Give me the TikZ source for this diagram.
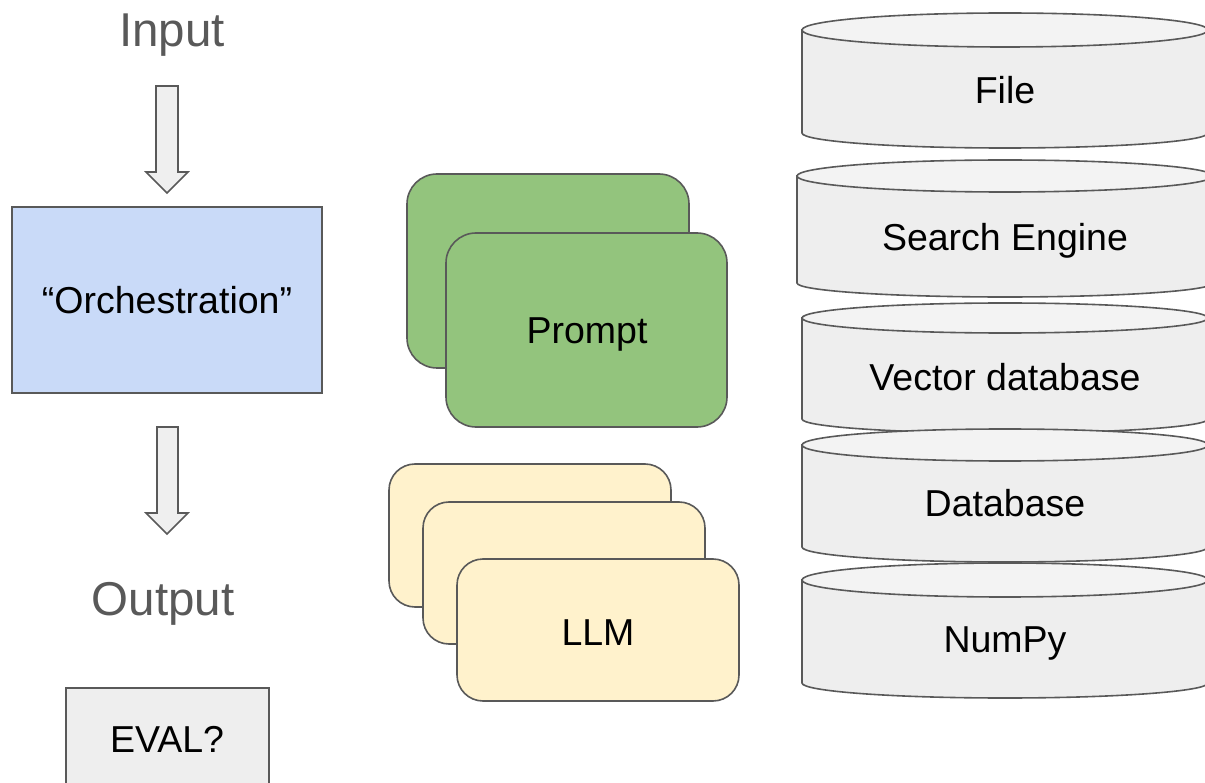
\documentclass[tikz,border=0pt]{standalone}
\usepackage{fontspec}
\setmainfont{Liberation Sans}
\begin{document}
\begin{tikzpicture}[x=1pt,y=-1pt,
  edge/.style={draw=strokegray,line width=1.6pt},
  bigtext/.style={text=labelgray,font=\fontsize{47.5}{50}\selectfont,inner sep=0pt,text height=34pt,text depth=0pt},
  boxtext/.style={text=black,font=\fontsize{37.5}{40}\selectfont,inner sep=0pt,text height=27pt,text depth=0pt},
  downarrow/.style={edge,fill=arrowfill,line join=miter},
  card/.style={edge,rounded corners=30pt},
  cylbody/.style={edge,fill=cylfill},
  cyltop/.style={edge,fill=cyltopfill}]
\definecolor{strokegray}{HTML}{595959}
\definecolor{labelgray}{HTML}{595959}
\definecolor{arrowfill}{HTML}{EFEFEF}
\definecolor{orchfill}{HTML}{C9DAF8}
\definecolor{evalfill}{HTML}{EEEEEE}
\definecolor{promptfill}{HTML}{93C47D}
\definecolor{llmfill}{HTML}{FFF2CC}
\definecolor{cylfill}{HTML}{EEEEEE}
\definecolor{cyltopfill}{HTML}{F3F3F3}
\useasboundingbox (0,0) rectangle (1205,783);
\clip (0,0) rectangle (1205,783);

% Left column
\node[bigtext] (input) at (172,30) {Input};
\draw[downarrow] (156,86) -- (178,86) -- (178,172) -- (188,172) -- (167,193) -- (146,172) -- (156,172) -- cycle;
\node[draw=strokegray,line width=1.6pt,fill=orchfill,minimum width=310pt,minimum height=186pt,inner sep=0pt] (orch) at (167,300) {};
\node[boxtext] at (orch.center) {“Orchestration”};
\draw[downarrow] (157,427) -- (178,427) -- (178,513) -- (188,513) -- (167,534) -- (146,513) -- (157,513) -- cycle;
\node[bigtext] (output) at (163,598) {Output};
\draw[edge,fill=evalfill] (66,800) -- (66,688) -- (269,688) -- (269,800);
\node[boxtext] (eval) at (167,739) {EVAL?};

% Prompt cards
\draw[card,fill=promptfill] (407,174) rectangle (689,368);
\draw[card,fill=promptfill] (446,233) rectangle (727,427);
\node[boxtext] (prompt) at (587,330) {Prompt};

% LLM cards
\draw[card,rounded corners=26pt,fill=llmfill] (389,464) rectangle (671,607);
\draw[card,rounded corners=26pt,fill=llmfill] (423,502) rectangle (705,644);
\draw[card,rounded corners=26pt,fill=llmfill] (457,559) rectangle (739,701);
\node[boxtext] (llm) at (598,632) {LLM};

% Cylinders: left, right, top-ellipse centre, ry top, bottom centre, ry bottom
\newcommand{\mycyl}[6]{%
  \pgfmathsetmacro{\cx}{(#1+#2)/2}%
  \pgfmathsetmacro{\rx}{(#2-#1)/2}%
  \draw[cylbody] (#1,#3) -- (#1,#5) arc[start angle=180,end angle=360,x radius=\rx pt,y radius=#6 pt] -- (#2,#3) -- cycle;
  \draw[cyltop] (\cx,#3) ellipse[x radius=\rx pt,y radius=#4 pt];
}
\mycyl{802}{1208}{30}{17}{133}{15}
\node[boxtext] (cfile) at (1005,90) {File};
\mycyl{797}{1213}{176}{16}{283}{14}
\node[boxtext] (csearch) at (1005,237.5) {Search Engine};
\mycyl{802}{1208}{318}{15}{419}{14}
\node[boxtext] (cvector) at (1005,377) {Vector database};
\mycyl{802}{1208}{445}{16}{547}{15}
\node[boxtext] (cdb) at (1005,503) {Database};
\mycyl{802}{1208}{580}{17}{683}{15}
\node[boxtext] (cnumpy) at (1005,639) {NumPy};
\end{tikzpicture}
\end{document}
